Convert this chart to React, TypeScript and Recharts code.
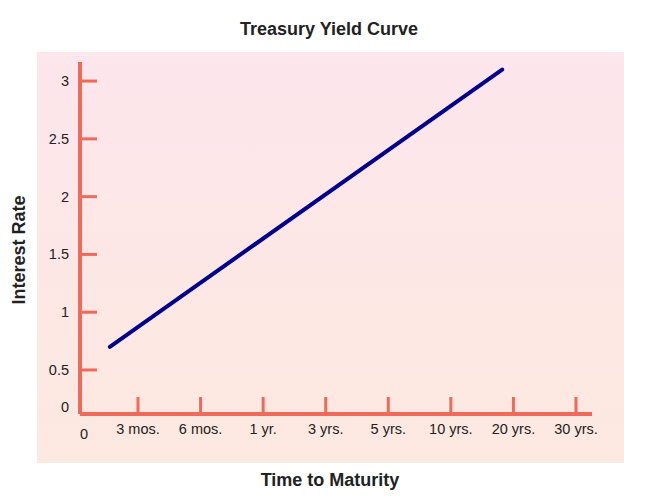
import { LineChart, Line, XAxis, YAxis } from "recharts";

// x positions: 1..8 are the maturities, the origin sits a bit before 1
const maturityTicks = [0.073, 1, 2, 3, 4, 5, 6, 7, 8];
const maturityLabels = ["0", "3 mos.", "6 mos.", "1 yr.", "3 yrs.", "5 yrs.", "10 yrs.", "20 yrs.", "30 yrs."];

const rateTicks = [0.119, 0.5, 1, 1.5, 2, 2.5, 3];
const rateLabels = ["0", "0.5", "1", "1.5", "2", "2.5", "3"];

// the curve itself
const curveMaturity = [0.55, 6.82];
const curveRate = [0.7, 3.1];

const data = curveMaturity.map((m, i) => ({ maturity: m, rate: curveRate[i] }));

const AXIS = "#f06a5c";
const INK = "#222";
const FONT = "Arial, 'Liberation Sans', Helvetica, sans-serif";
const TICK_SIZE = 14.5;

const XTick = (props: any) => {
  const { x, y, index } = props;
  if (index === 0) {
    return (
      <text x={x + 4} y={y + 25} textAnchor="middle" fontSize={TICK_SIZE} fill={INK} fontFamily={FONT}>
        {maturityLabels[0]}
      </text>
    );
  }
  return (
    <g>
      <line x1={x} x2={x} y1={y - 17} y2={y} stroke={AXIS} strokeWidth={3} />
      <text x={x} y={y + 20} textAnchor="middle" fontSize={TICK_SIZE} fill={INK} fontFamily={FONT}>
        {maturityLabels[index]}
      </text>
    </g>
  );
};

const YTick = (props: any) => {
  const { x, y, index } = props;
  if (index === 0) {
    return (
      <text x={x - 11} y={y - 2} textAnchor="end" fontSize={TICK_SIZE} fill={INK} fontFamily={FONT}>
        {rateLabels[0]}
      </text>
    );
  }
  return (
    <g>
      <line x1={x} x2={x + 17} y1={y} y2={y} stroke={AXIS} strokeWidth={3} />
      <text x={x - 11} y={y + 5} textAnchor="end" fontSize={TICK_SIZE} fill={INK} fontFamily={FONT}>
        {rateLabels[index]}
      </text>
    </g>
  );
};

export default function App() {
  return (
    <div style={{ position: "absolute", left: 0, top: 0, width: 660, height: 500, background: "#fff" }}>
      <div
        style={{
          position: "absolute",
          left: 37,
          top: 52,
          width: 587,
          height: 411,
          background: "linear-gradient(to bottom, #fde6ec, #fde9e0)",
        }}
      />
      <div style={{ position: "absolute", left: 0, top: 0 }}>
        <LineChart width={660} height={500} data={data} margin={{ top: 62, right: 68, bottom: 0, left: 0 }}>
          <XAxis
            dataKey="maturity"
            type="number"
            domain={[0.073, 8.256]}
            allowDataOverflow
            ticks={maturityTicks}
            interval={0}
            height={86}
            tickSize={0}
            tickMargin={0}
            tickLine={false}
            axisLine={{ stroke: AXIS, strokeWidth: 4 }}
            tick={<XTick />}
          />
          <YAxis
            type="number"
            domain={[0.119, 3.165]}
            allowDataOverflow
            ticks={rateTicks}
            interval={0}
            width={80}
            tickSize={0}
            tickMargin={0}
            tickLine={false}
            axisLine={{ stroke: AXIS, strokeWidth: 4 }}
            tick={<YTick />}
          />
          <Line
            dataKey="rate"
            type="linear"
            stroke="#00008c"
            strokeWidth={4}
            strokeLinecap="round"
            dot={false}
            activeDot={false}
            isAnimationActive={false}
          />
        </LineChart>
      </div>
      <svg
        width={660}
        height={500}
        style={{ position: "absolute", left: 0, top: 0, pointerEvents: "none" }}
        fontFamily={FONT}
      >
        <text x={329} y={35} textAnchor="middle" fontSize={18} fontWeight="bold" fill={INK}>
          Treasury Yield Curve
        </text>
        <text x={330} y={486} textAnchor="middle" fontSize={18} fontWeight="bold" fill={INK}>
          Time to Maturity
        </text>
        <text
          x={0}
          y={0}
          transform="translate(25,250) rotate(-90)"
          textAnchor="middle"
          fontSize={18}
          fontWeight="bold"
          fill={INK}
        >
          Interest Rate
        </text>
      </svg>
    </div>
  );
}
